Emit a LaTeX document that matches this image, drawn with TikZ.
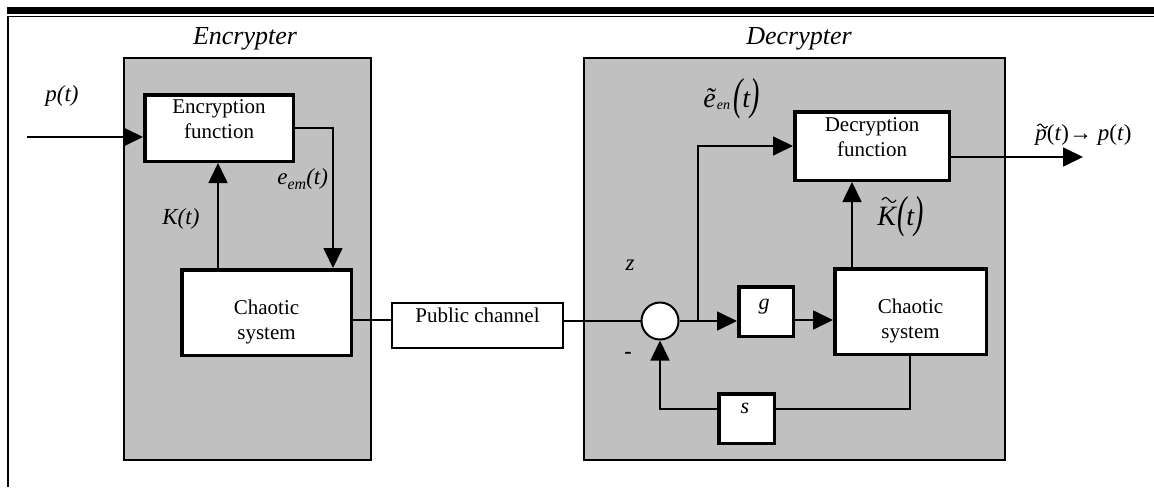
\documentclass[tikz,border=0pt]{standalone}
\usepackage{fontspec}
\setmainfont{Liberation Serif}
\usepackage{graphicx}
\usetikzlibrary{arrows.meta,calc}
\definecolor{panelgrey}{HTML}{C0C0C0}

% tall parentheses round an argument
\newcommand\tallparen[1]{\raisebox{-1pt}{\scalebox{1}[1.6]{(}}#1\raisebox{-1pt}{\scalebox{1}[1.6]{)}}}

\begin{document}
\begin{tikzpicture}[x=0.5pt,y=-0.5pt,
  conn/.style={line width=0.85pt},
  arr/.style={conn,-{Triangle[length=10pt,width=9.5pt]}},
  blk/.style={draw,fill=white,line width=1.75pt,inner sep=0pt},
  thinblk/.style={draw,fill=white,line width=1pt,inner sep=0pt},
  panel/.style={draw,fill=panelgrey,line width=1pt,inner sep=0pt},
  btxt/.style={font=\fontsize{10.5}{12.5}\selectfont,align=center,inner sep=0pt},
  vtxt/.style={font=\fontsize{11}{13}\selectfont\itshape,inner sep=0pt},
  ilbl/.style={font=\fontsize{11.5}{13}\selectfont\itshape,inner sep=0pt},
  title/.style={font=\fontsize{13}{15}\selectfont\itshape,inner sep=0pt,anchor=base},
  wave/.style={line width=0.55pt},
  ]
\useasboundingbox (0,0) rectangle (1154,487);

% page rules
\fill (7,7) rectangle (1154,14);
\coordinate (rr) at (1154,16.5);
\coordinate (rl) at (8.3,16.5);
\coordinate (rb) at (8.3,487);
\draw[line width=0.85pt] (rr) -- (rl) -- (rb);

% panels
\node[panel,minimum width=123.75pt,minimum height=201pt] (encpanel) at (247.25,259) {};
\node[panel,minimum width=210.5pt,minimum height=201pt] (decpanel) at (794.5,259) {};
\node[title] (enctitle) at (245,44.5) {Encrypter};
\node[title] (dectitle) at (799,44.5) {Decrypter};

% encrypter blocks
\node[blk,minimum width=74.25pt,minimum height=33.25pt,
  label={[btxt,yshift=4.6pt]center:Encryption\\function}] (encf) at (219,128) {};
\node[blk,minimum width=84.75pt,minimum height=42.75pt,
  label={[btxt,yshift=-4.5pt]center:Chaotic\\system}] (encc) at (266.5,312.5) {};

% channel
\node[thinblk,minimum width=85.5pt,minimum height=22.5pt,
  label={[btxt,yshift=5pt]center:Public channel}] (pub) at (477.5,325.5) {};

% decrypter blocks
\node[circle,draw,fill=white,line width=1pt,minimum size=18.5pt,inner sep=0pt] (sum) at (660,321) {};
\node[blk,minimum width=27.25pt,minimum height=24.75pt,
  label={[vtxt,yshift=2.5pt,xshift=-1pt]center:g}] (g) at (766,311.5) {};
\node[blk,minimum width=75.75pt,minimum height=42.75pt,
  label={[btxt,yshift=-4.7pt]center:Chaotic\\system}] (decc) at (910.5,311.5) {};
\node[blk,minimum width=27.75pt,minimum height=24.75pt,
  label={[vtxt,yshift=5.25pt,xshift=-0.75pt]center:s}] (s) at (746.5,418.5) {};
\node[blk,minimum width=77.25pt,minimum height=34.25pt,
  label={[btxt,yshift=4.3pt]center:Decryption\\function}] (decf) at (872,146) {};

% encrypter connections
\coordinate (pin) at (27,137);
\draw[arr] (pin) -- (pin -| encf.west);
\coordinate (eturn) at (333,128);
\draw[arr] (encf.east |- eturn) -- (eturn) -- (eturn |- encc.north);
\coordinate (kfoot) at (218,300);
\draw[arr] (kfoot |- encc.north) -- (kfoot |- encf.south);

% channel connections
\coordinate (chrow) at (0,320);
\draw[conn] (encc.east |- chrow) -- (pub.west |- chrow);
\draw[conn] (pub.east |- sum) -- (sum.west);

% decrypter connections
\coordinate (junc) at (698,321);
\draw[arr] (sum.east) -- (g.west |- sum);
\draw[arr] (junc) |- (decf.west);
\draw[arr] (g.east |- chrow) -- (decc.west |- chrow);
\coordinate (ktil) at (852,300);
\draw[arr] (ktil |- decc.north) -- (ktil |- decf.south);
\coordinate (fbk) at (910,409);
\draw[conn] (decc.south -| fbk) -- (fbk) -- (fbk -| s.east);
\draw[arr] (s.west |- fbk) -| (sum.south);
\coordinate (pout) at (1083,157);
\draw[arr] (decf.east |- pout) -- (pout);

% signal labels
\node[ilbl,anchor=base west] (lp) at (45,101.7) {p(t)};
\node[ilbl,anchor=base west] (lk) at (162,224) {K(t)};
\node[ilbl,anchor=base west] (le) at (277,184) {e\raisebox{-2.5pt}{\fontsize{8}{9}\selectfont em}(t)};
\node[ilbl] (lz) at (630,265) {z};
\node[font=\fontsize{11}{13}\selectfont\bfseries,inner sep=0pt] (lminus) at (628,355) {-};
\node[anchor=base west,inner sep=0pt] (lenc) at (703,107)
  {\fontsize{14}{15}\selectfont\itshape ẽ\kern.5pt\raisebox{-1pt}{\fontsize{7}{8}\selectfont en}\kern1.5pt\tallparen{t}};
\node[anchor=base west,inner sep=0pt] (lkt) at (877,225)
  {\fontsize{14}{15}\selectfont\itshape K\kern.5pt\tallparen{t}};
\node[anchor=base west,inner sep=0pt] (lpout) at (1035,140)
  {\fontsize{11.5}{13}\selectfont\textit{p}(\textit{t})→ \textit{p}(\textit{t})};
% tildes over K and the leading p
\draw[wave] ($(lkt.base west)+(5,-25)$)
  sin ++(3.5,-2.5) cos ++(3.5,2.5) sin ++(3.5,2.5) cos ++(3.5,-2.5);
\draw[wave] ($(lpout.base west)+(2.5,-14)$)
  sin ++(2.5,-2) cos ++(2.5,2) sin ++(2.5,2) cos ++(2.5,-2);
\end{tikzpicture}
\end{document}
